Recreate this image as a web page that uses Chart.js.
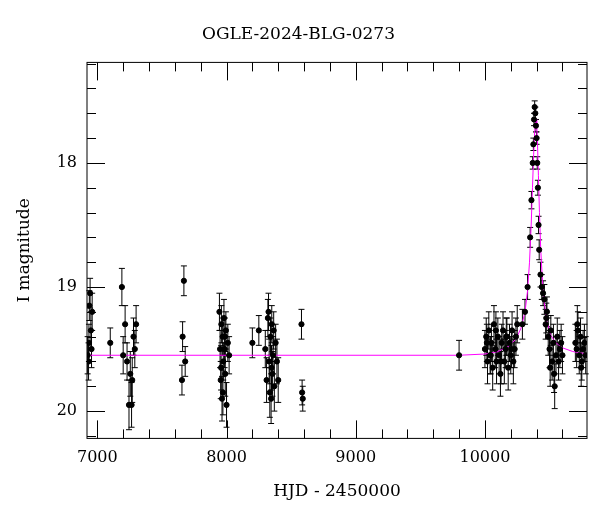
<!DOCTYPE html>
<html lang="en">
<head>
<meta charset="UTF-8">
<title>OGLE-2024-BLG-0273</title>
<script src="https://cdn.jsdelivr.net/npm/chart.js"></script>
<style>
  body { margin: 0; background: #fff; }
  #wrap { width: 600px; height: 512px; }
</style>
</head>
<body>
<div id="wrap"><canvas id="lc" width="600" height="512"></canvas></div>
<script>
// photometry: HJD-2450000, I mag, error
const hjd = [6925,6932,6938,6944,6950,6955,6960,6935,
  7100,7190,7200,7215,7230,7245,7255,7265,7280,7290,7300,7270,
  7655,7660,7670,7680,
  7945,7950,7955,7960,7965,7970,7975,7980,7985,7990,7995,8000,8010,8020,7958,7972,7988,
  8200,8250,8300,8310,8320,8330,8335,8340,8345,8350,8355,8360,8370,8380,8390,8400,8325,8348,8365,
  8580,8585,8590,
  9800,
  10000,10010,10020,10030,10040,10050,10060,10070,10080,10090,10100,10110,10120,10130,10140,10150,10160,10170,10180,10190,10200,10210,10220,10230,10240,10250,10015,10045,10085,10125,10165,10205,
  10290,10310,10330,10350,10360,10370,10375,10380,10385,10390,10395,10400,10405,10410,10415,10420,10430,10440,10450,
  10460,10470,10480,10490,10500,10510,10520,10530,10540,10550,10560,10570,10580,10590,10600,10475,10505,10535,
  10700,10710,10720,10730,10740,10750,10760,10770,10780,10715,10745];
const imag = [19.55,19.6,19.15,19.05,19.35,19.5,19.2,19.45,
  19.45,19.0,19.55,19.3,19.6,19.95,19.7,19.95,19.4,19.5,19.3,19.75,
  19.75,19.4,18.95,19.6,
  19.2,19.5,19.75,19.3,19.9,19.4,19.6,19.25,19.5,19.7,19.35,19.95,19.45,19.55,19.65,19.85,19.4,
  19.45,19.35,19.5,19.75,19.25,19.6,19.85,19.4,19.9,19.3,19.7,19.55,19.8,19.45,19.6,19.75,19.2,19.65,19.35,
  19.3,19.85,19.9,
  19.55,
  19.5,19.4,19.6,19.35,19.55,19.45,19.65,19.3,19.5,19.6,19.4,19.55,19.7,19.45,19.35,19.6,19.5,19.4,19.65,19.45,19.55,19.35,19.6,19.5,19.4,19.3,19.45,19.55,19.35,19.6,19.4,19.5,
  19.3,19.2,19.0,18.6,18.3,18.0,17.85,17.65,17.55,17.6,17.7,17.8,18.0,18.2,18.5,18.7,18.9,19.0,19.05,
  19.1,19.3,19.2,19.4,19.5,19.35,19.6,19.45,19.8,19.55,19.4,19.6,19.5,19.45,19.55,19.25,19.65,19.7,
  19.45,19.5,19.35,19.55,19.4,19.6,19.5,19.45,19.55,19.3,19.65];
const ierr = [0.15,0.15,0.12,0.12,0.15,0.15,0.15,0.15,
  0.12,0.15,0.15,0.15,0.15,0.2,0.18,0.18,0.15,0.15,0.15,0.18,
  0.12,0.12,0.12,0.12,
  0.15,0.15,0.15,0.15,0.18,0.15,0.15,0.15,0.15,0.18,0.15,0.18,0.15,0.15,0.18,0.18,0.15,
  0.12,0.12,0.15,0.18,0.15,0.18,0.2,0.15,0.2,0.15,0.18,0.15,0.2,0.15,0.18,0.18,0.15,0.18,0.15,
  0.12,0.1,0.1,
  0.12,
  0.15,0.15,0.18,0.15,0.15,0.15,0.18,0.15,0.15,0.18,0.15,0.15,0.18,0.15,0.15,0.18,0.15,0.15,0.18,0.15,0.15,0.15,0.18,0.15,0.15,0.15,0.15,0.15,0.15,0.18,0.15,0.15,
  0.12,0.1,0.1,0.08,0.07,0.05,0.05,0.05,0.05,0.05,0.05,0.05,0.05,0.06,0.07,0.08,0.1,0.1,0.1,
  0.12,0.12,0.12,0.15,0.15,0.12,0.15,0.15,0.18,0.15,0.15,0.15,0.15,0.15,0.15,0.12,0.15,0.15,
  0.15,0.15,0.15,0.15,0.15,0.15,0.15,0.15,0.15,0.15,0.15];
// model curve
const modelT = [6920,9800,10000,10100,10180,10240,10280,10310,10330,10345,10358,10368,10377,10385,10391,10396,10401,10407,10414,10422,10432,10445,10460,10480,10510,10550,10600,10680,10790];
const modelM = [19.55,19.55,19.54,19.52,19.48,19.42,19.33,19.2,19.03,18.8,18.5,18.2,17.93,17.75,17.66,17.65,17.7,17.85,18.1,18.4,18.7,18.95,19.13,19.28,19.39,19.45,19.49,19.52,19.54];

const serif = '"DejaVu Serif", "Liberation Serif", serif';
const points = hjd.map((t, i) => ({ x: t, y: imag[i], e: ierr[i] }));
const model = modelT.map((t, i) => ({ x: t, y: modelM[i] }));

// error bars + inward ticks on all four sides
const extras = {
  id: 'extras',
  beforeDatasetsDraw(chart) {
    const c = chart.ctx, xs = chart.scales.x, ys = chart.scales.y;
    c.save();
    c.strokeStyle = '#000'; c.lineWidth = 1;
    points.forEach(p => {
      const px = xs.getPixelForValue(p.x);
      const y1 = ys.getPixelForValue(p.y - p.e), y2 = ys.getPixelForValue(p.y + p.e);
      c.beginPath();
      c.moveTo(px, y1); c.lineTo(px, y2);
      c.moveTo(px - 3, y1); c.lineTo(px + 3, y1);
      c.moveTo(px - 3, y2); c.lineTo(px + 3, y2);
      c.stroke();
    });
    c.restore();
  },
  afterDraw(chart) {
    const c = chart.ctx, xs = chart.scales.x, ys = chart.scales.y, a = chart.chartArea;
    c.save();
    c.strokeStyle = '#000'; c.lineWidth = 1;
    c.strokeRect(a.left, a.top, a.right - a.left, a.bottom - a.top);
    c.beginPath();
    for (let v = 7000; v <= 10800; v += 200) {
      const px = Math.round(xs.getPixelForValue(v)) + 0.5;
      if (px < a.left || px > a.right) continue;
      const L = v % 1000 === 0 ? 18 : 9;
      c.moveTo(px, a.bottom); c.lineTo(px, a.bottom - L);
      c.moveTo(px, a.top); c.lineTo(px, a.top + L);
    }
    for (let k = 86; k <= 102; k++) {
      const v = k / 5;
      const py = Math.round(ys.getPixelForValue(v)) + 0.5;
      if (py < a.top || py > a.bottom) continue;
      const L = k % 5 === 0 ? 18 : 9;
      c.moveTo(a.left, py); c.lineTo(a.left + L, py);
      c.moveTo(a.right, py); c.lineTo(a.right - L, py);
    }
    c.stroke();
    c.restore();
  }
};

new Chart(document.getElementById('lc'), {
  type: 'scatter',
  data: {
    datasets: [
      { data: model, showLine: true, borderColor: '#ff00ff', borderWidth: 1, pointRadius: 0, tension: 0, order: 2 },
      { data: points, backgroundColor: '#000', borderColor: '#000', pointRadius: 2.6, order: 1 }
    ]
  },
  plugins: [extras],
  options: {
    responsive: false,
    animation: false,
    layout: { padding: { top: 14, right: 13, left: 10, bottom: 6 } },
    plugins: {
      legend: { display: false },
      tooltip: { enabled: false },
      title: { display: true, text: 'OGLE-2024-BLG-0273', color: '#000', font: { family: serif, size: 17, weight: 'normal' }, padding: { top: 10, bottom: 18 } }
    },
    scales: {
      x: {
        type: 'linear', min: 6920, max: 10790,
        grid: { display: false, drawTicks: false },
        border: { display: false },
        afterBuildTicks: s => { s.ticks = [7000, 8000, 9000, 10000].map(v => ({ value: v })); },
        ticks: { color: '#000', font: { family: serif, size: 16 }, padding: 10, maxRotation: 0, callback: v => String(v) },
        title: { display: true, text: 'HJD - 2450000', color: '#000', font: { family: serif, size: 17 }, padding: { top: 4 } }
      },
      y: {
        type: 'linear', reverse: true, min: 17.19, max: 20.22,
        grid: { display: false, drawTicks: false },
        border: { display: false },
        afterBuildTicks: s => { s.ticks = [18, 19, 20].map(v => ({ value: v })); },
        afterFit: s => { s.width = 77; },
        ticks: { color: '#000', font: { family: serif, size: 16 }, padding: 10 },
        title: { display: true, text: 'I magnitude', color: '#000', font: { family: serif, size: 17 }, padding: { bottom: 8 } }
      }
    }
  }
});
</script>
</body>
</html>
